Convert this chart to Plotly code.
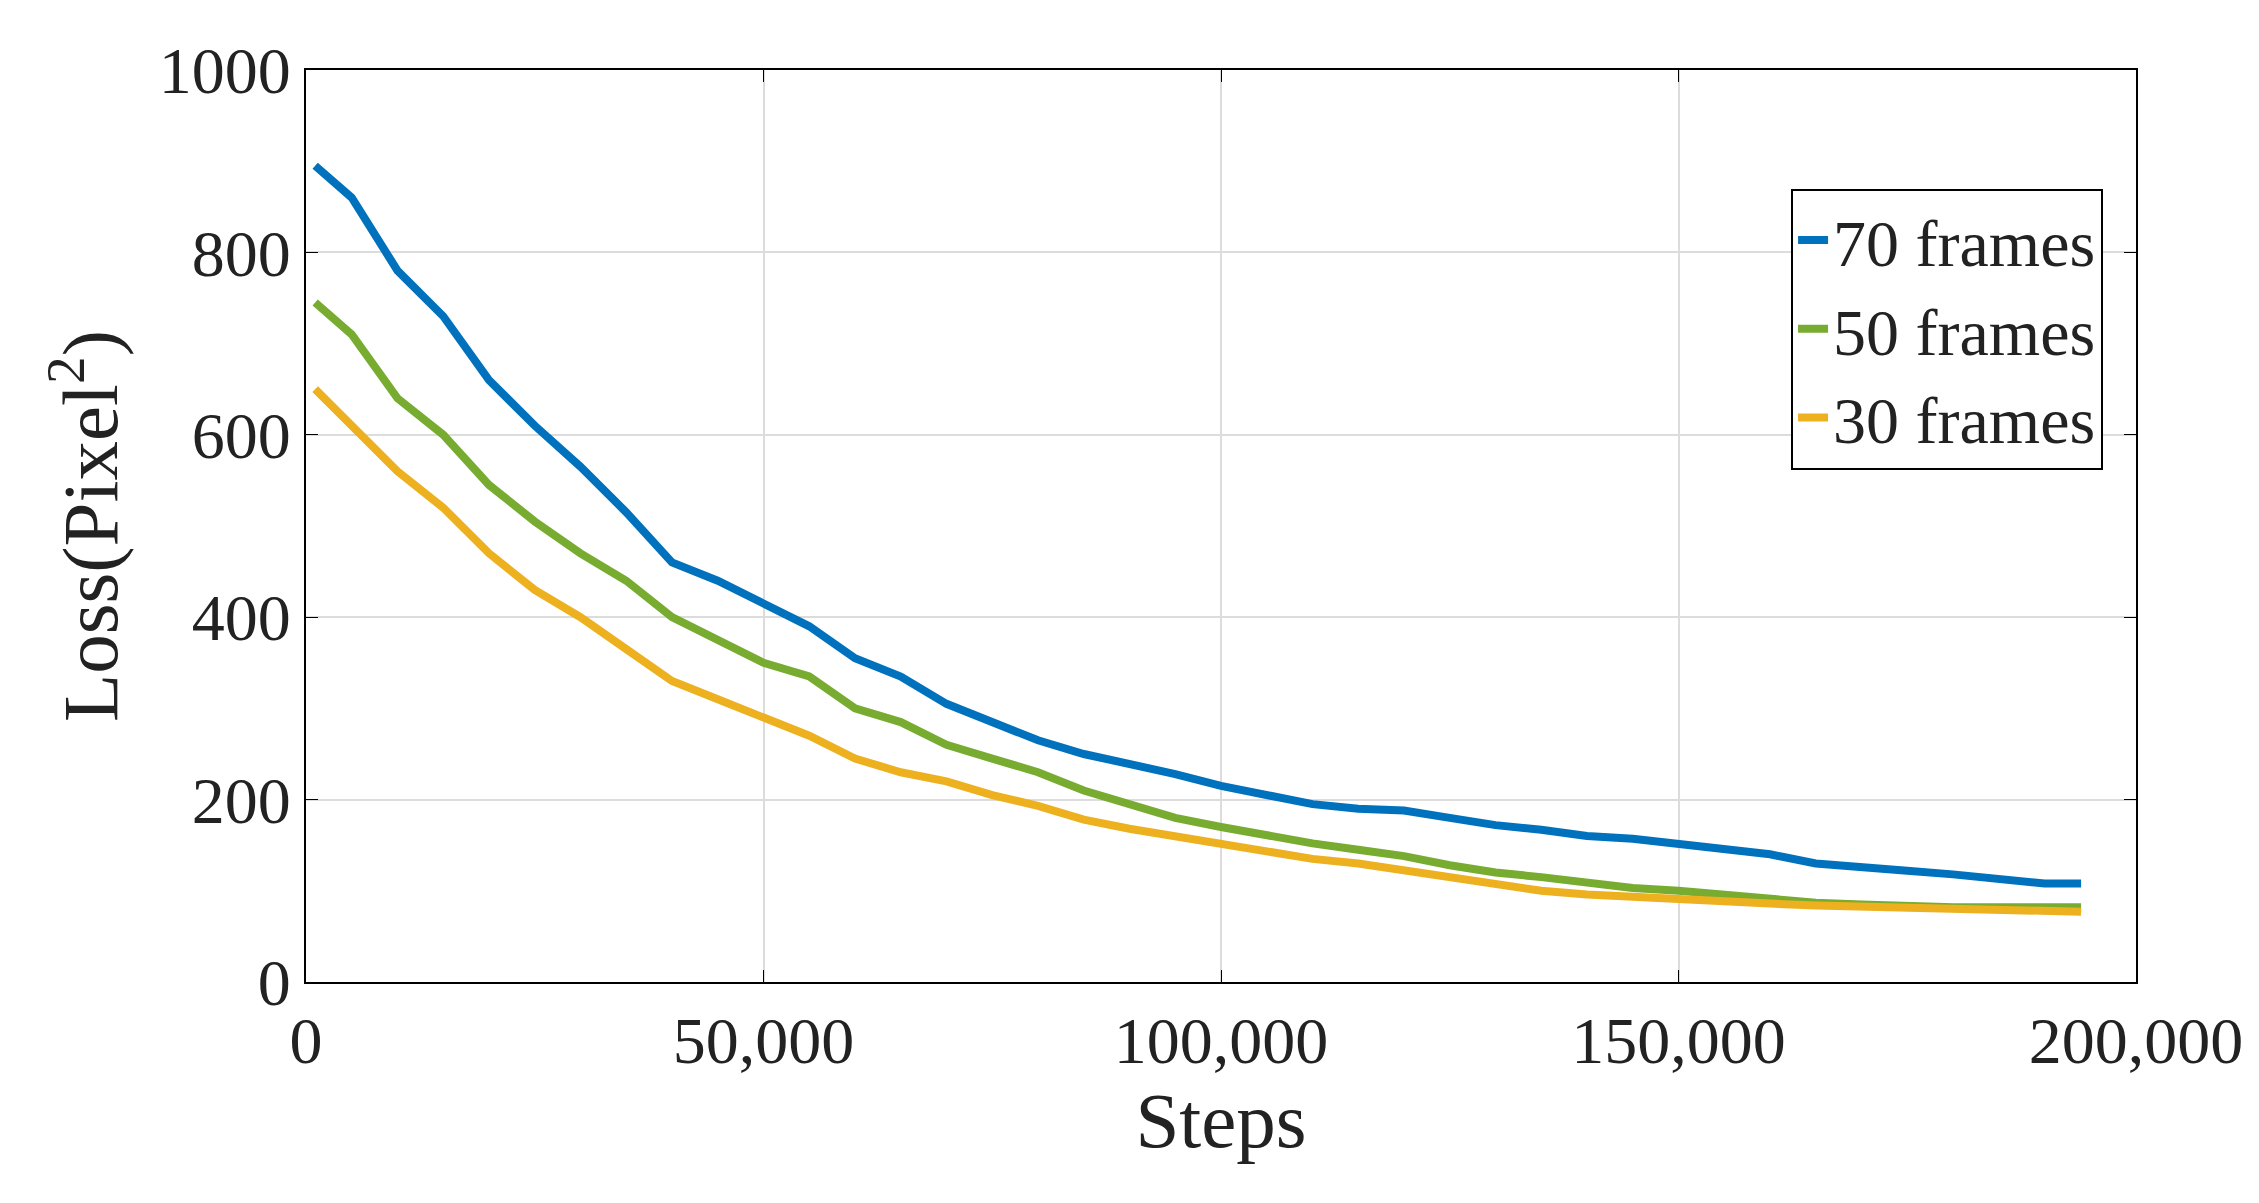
import plotly.graph_objects as go

steps = [1000] + list(range(5000, 190001, 5000)) + [194000]
loss70 = [895,860,780,730,660,610,565,515,460,440,415,390,355,335,305,285,265,250,240,228,
          215,205,195,190,188,180,172,167,160,157,152,147,140,130,125,122,118,112,108,108]
loss50 = [745,710,640,600,545,505,470,440,400,375,350,335,300,285,260,245,230,210,195,180,
          170,160,152,145,138,128,120,115,108,103,100,95,92,87,85,83,82,82,82,82]
loss30 = [650,610,560,520,470,430,400,365,330,310,290,270,245,230,220,205,193,178,168,160,
          150,142,135,130,122,115,108,100,96,93,90,88,86,84,83,81,80,79,78,77]
names = ["70 frames", "50 frames", "30 frames"]
colors = ["#0072BD", "#77AC30", "#EDB120"]

fig = go.Figure()
for y, n, c in zip([loss70, loss50, loss30], names, colors):
    fig.add_trace(go.Scatter(x=steps, y=y, name=n, mode="lines", line=dict(color=c, width=8)))

font = dict(family="Liberation Serif, DejaVu Serif, serif", size=66, color="#222")
ax = dict(showline=True, linecolor="black", linewidth=2, mirror="ticks", ticks="inside",
          ticklen=12, tickcolor="black", gridcolor="#dcdcdc", gridwidth=2, zeroline=False)
fig.update_layout(
    width=2259, height=1203, plot_bgcolor="white", paper_bgcolor="white", font=font,
    margin=dict(l=298, r=131, t=62, b=229),
    xaxis=dict(range=[0, 200000], tickvals=[0, 50000, 100000, 150000, 200000],
               ticktext=["0", "50,000", "100,000", "150,000", "200,000"],
               title=dict(text="Steps", standoff=15), **ax),
    yaxis=dict(range=[0, 1000], dtick=200, title=dict(text="Loss(Pixel<sup>2</sup>)", standoff=15), **ax),
    legend=dict(x=0.982, y=0.87, xanchor="right", yanchor="top", bordercolor="black", borderwidth=2,
                bgcolor="white", font=font, tracegroupgap=0, itemwidth=30),
    showlegend=True,
)
fig.write_html("out.html")
